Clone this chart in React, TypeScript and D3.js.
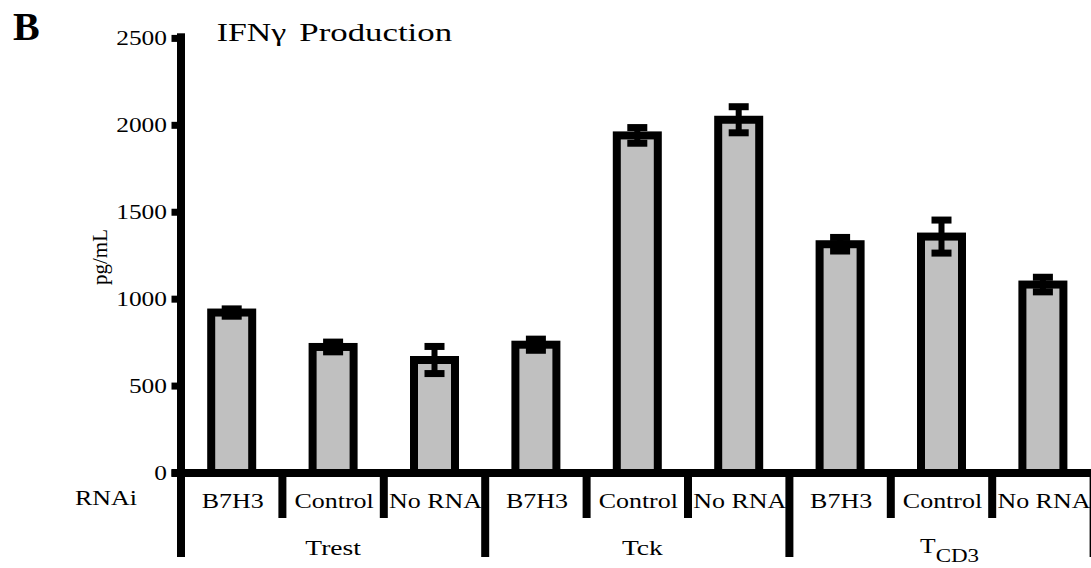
import React from "react";
import * as d3 from "d3";

const groups = ["Trest", "Tck", "TCD3"];
const rnai = ["B7H3", "Control", "No RNA"];
const means = [923, 725, 650, 738, 1942, 2032, 1316, 1360, 1084];
const errors = [21, 28, 78, 32, 45, 75, 39, 95, 42];
const yTicks = [0, 500, 1000, 1500, 2000, 2500];

const FONT = "'Liberation Serif', 'Times New Roman', serif";

export default function App() {
  const W = 1091, H = 568;
  const keys = groups.flatMap((g) => rnai.map((r) => `${g}|${r}`));
  const x = d3.scaleBand<string>().domain(keys).range([181, 1093.6]).padding(0);
  const y = d3.scaleLinear().domain([0, 2500]).range([473, 38.4]);
  const step = x.step();
  const barW = 41;
  const SW = 8;
  const y0 = y(0);

  const boundaries = d3.range(0, keys.length + 1).map((i) => ({
    x: 181 + i * step,
    long: i % 3 === 0,
  }));

  return (
    <svg
      width={W}
      height={H}
      style={{ position: "fixed", left: 0, top: 0, background: "#fff" }}
      fontFamily={FONT}
      fill="#000"
    >
      <rect x={0} y={0} width={W} height={H} fill="#fff" />
      {/* panel letter */}
      <text x={13} y={40} fontSize={40} fontWeight="bold">B</text>
      {/* title */}
      <text transform={`translate(216.7,40.7) scale(1.3,1)`} fontSize={26}>IFNγ</text>
      <text transform={`translate(299.3,40.7) scale(1.34,1)`} fontSize={26}>Production</text>

      {/* y label */}
      <text
        transform={`translate(107,257) rotate(-90) scale(1.05,1)`}
        fontSize={20}
        textAnchor="middle"
      >
        pg/mL
      </text>

      {/* bars */}
      {keys.map((k, i) => {
        const cx = (x(k) as number) + step / 2;
        const v = means[i];
        return (
          <rect
            key={k}
            x={cx - barW / 2}
            y={y(v)}
            width={barW}
            height={y0 - y(v)}
            fill="#c0c0c0"
            stroke="#000"
            strokeWidth={SW}
          />
        );
      })}

      {/* error bars */}
      {keys.map((k, i) => {
        const cx = (x(k) as number) + step / 2;
        const hi = y(means[i] + errors[i]);
        const lo = y(means[i] - errors[i]);
        return (
          <g key={"e" + k} fill="#000">
            <rect x={cx - 3} y={hi} width={6} height={lo - hi} />
            <rect x={cx - 10} y={hi - 3.5} width={20} height={7} />
            <rect x={cx - 10} y={lo - 3.5} width={20} height={7} />
          </g>
        );
      })}

      {/* y axis */}
      <rect x={177} y={33.3} width={8} height={557 - 33.3} fill="#000" />
      {yTicks.map((t) => (
        <g key={t}>
          <rect x={171.5} y={y(t) - 3.5} width={8} height={7} fill="#000" />
          <text
            transform={`translate(167,${y(t)}) scale(1.27,1)`}
            fontSize={20}
            textAnchor="end"
            dy="0.34em"
          >
            {t}
          </text>
        </g>
      ))}

      {/* category labels */}
      {keys.map((k, i) => {
        const cx = (x(k) as number) + step / 2;
        return (
          <text
            key={"l" + k}
            transform={`translate(${cx + 1},507.5) scale(1.18,1)`}
            fontSize={22}
            textAnchor="middle"
          >
            {rnai[i % 3]}
          </text>
        );
      })}

      {/* x axis baseline */}
      <rect x={171.5} y={y0 - 4} width={W} height={8} fill="#000" />

      {/* separators */}
      {boundaries.map((b, i) => (
        <rect
          key={"s" + i}
          x={b.x - 4}
          y={y0}
          width={8}
          height={(b.long ? 557 : 518) - y0}
          fill="#000"
        />
      ))}

      <text transform={`translate(75,505) scale(1.18,1)`} fontSize={22}>RNAi</text>

      {/* group labels */}
      {groups.map((g, gi) => {
        const cx = 181 + (gi * 3 + 1.5) * step;
        if (g === "TCD3") {
          return (
            <text key={g} transform={`translate(920,553) scale(1.28,1)`} fontSize={20}>
              T
              <tspan fontSize={18} dy={8.5}>CD3</tspan>
            </text>
          );
        }
        return (
          <text
            key={g}
            transform={`translate(${g === "Tck" ? cx + 5 : cx},555) scale(1.25,1)`}
            fontSize={22}
            textAnchor="middle"
          >
            {g}
          </text>
        );
      })}
    </svg>
  );
}
